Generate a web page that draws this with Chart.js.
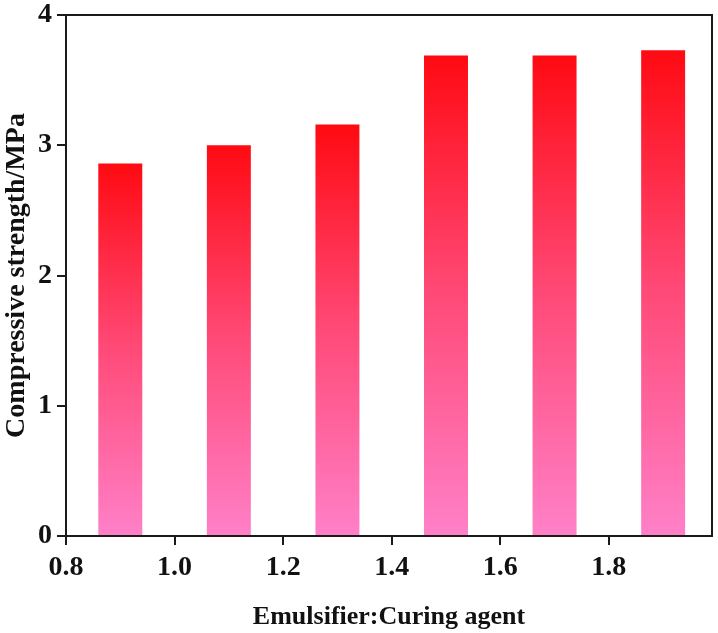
<!DOCTYPE html>
<html>
<head>
<meta charset="utf-8">
<script src="https://cdn.jsdelivr.net/npm/chart.js@4/dist/chart.umd.min.js"></script>
<style>
html,body{margin:0;padding:0;background:#fff;}
#wrap{width:718px;height:633px;}
</style>
</head>
<body>
<div id="wrap"><canvas id="c" width="718" height="633"></canvas></div>
<script>
const ratios = [0.9, 1.1, 1.3, 1.5, 1.7, 1.9];
const strength = [2.86, 3.0, 3.16, 3.69, 3.69, 3.73];
const xTickValues = [0.8, 1.0, 1.2, 1.4, 1.6, 1.8];
const yTickValues = [0, 1, 2, 3, 4];
const xTitle = 'Emulsifier:Curing agent';
const yTitle = 'Compressive strength/MPa';

const FONT = '"Liberation Serif", "Times New Roman", serif';
const AXIS_COLOR = '#1a1a1a';
const TICK_LEN = 9;

function barGradient(ctx) {
  const chart = ctx.chart;
  if (!chart.chartArea || !chart.scales.y) return '#ff4080';
  const ys = chart.scales.y;
  const v = ctx.raw && ctx.raw.y !== undefined ? ctx.raw.y : ctx.raw;
  const top = ys.getPixelForValue(v);
  const bot = ys.getPixelForValue(0);
  if (!isFinite(top) || !isFinite(bot) || top === bot) return '#ff4080';
  const g = chart.ctx.createLinearGradient(0, top, 0, bot);
  g.addColorStop(0, '#ff0a12');
  g.addColorStop(0.5, '#ff4a78');
  g.addColorStop(1, '#ff80c8');
  return g;
}

const framePlugin = {
  id: 'frame',
  afterDraw(chart) {
    const {ctx, chartArea: a} = chart;
    const xs = chart.scales.x;
    ctx.save();
    ctx.strokeStyle = AXIS_COLOR;
    ctx.lineWidth = 2;
    ctx.beginPath();
    ctx.moveTo(a.left, a.top);
    ctx.lineTo(a.right, a.top);
    ctx.lineTo(a.right, a.bottom);
    ctx.stroke();
    // outward tick marks on the x axis, placed through the x scale
    ctx.beginPath();
    xTickValues.forEach(v => {
      const px = Math.round(xs.getPixelForValue(v));
      ctx.moveTo(px, a.bottom);
      ctx.lineTo(px, a.bottom + TICK_LEN);
    });
    ctx.stroke();
    ctx.restore();
  }
};

new Chart(document.getElementById('c'), {
  type: 'bar',
  data: {
    datasets: [{
      data: ratios.map((x, i) => ({x: x, y: strength[i]})),
      backgroundColor: barGradient,
      borderWidth: 0,
      categoryPercentage: 1.0,
      barPercentage: 0.405
    }]
  },
  plugins: [framePlugin],
  options: {
    responsive: false,
    animation: false,
    layout: {padding: {top: 15, right: 6, left: 0, bottom: 0}},
    plugins: {legend: {display: false}, tooltip: {enabled: false}},
    scales: {
      x: {
        type: 'linear',
        offset: false,
        min: 0.8,
        max: 1.99,
        afterBuildTicks: (scale) => { scale.ticks = xTickValues.map(v => ({value: v})); },
        afterFit: (scale) => { scale.height = 633 - 536; },
        ticks: {
          callback: (v) => Number(v).toFixed(1),
          color: '#111',
          font: {family: FONT, size: 28, weight: 'bold'},
          padding: 15,
          maxRotation: 0,
          autoSkip: false
        },
        grid: {display: false, drawOnChartArea: false, drawTicks: false},
        border: {display: true, color: AXIS_COLOR, width: 2},
        title: {display: true, text: xTitle, color: '#111', font: {family: FONT, size: 26, weight: 'bold'}, padding: {top: 8, bottom: 0}}
      },
      y: {
        type: 'linear',
        min: 0,
        max: 4,
        afterBuildTicks: (scale) => { scale.ticks = yTickValues.map(v => ({value: v})); },
        afterFit: (scale) => { scale.width = 66; },
        ticks: {
          color: '#111',
          font: {family: FONT, size: 28, weight: 'bold', lineHeight: 0.7},
          padding: 5
        },
        grid: {display: true, drawOnChartArea: false, drawTicks: true, tickLength: TICK_LEN, color: AXIS_COLOR, lineWidth: 2},
        border: {display: true, color: AXIS_COLOR, width: 2},
        title: {display: true, text: yTitle, color: '#111', font: {family: FONT, size: 28, weight: 'bold'}, padding: {top: 0, bottom: 2}}
      }
    }
  }
});
</script>
</body>
</html>
